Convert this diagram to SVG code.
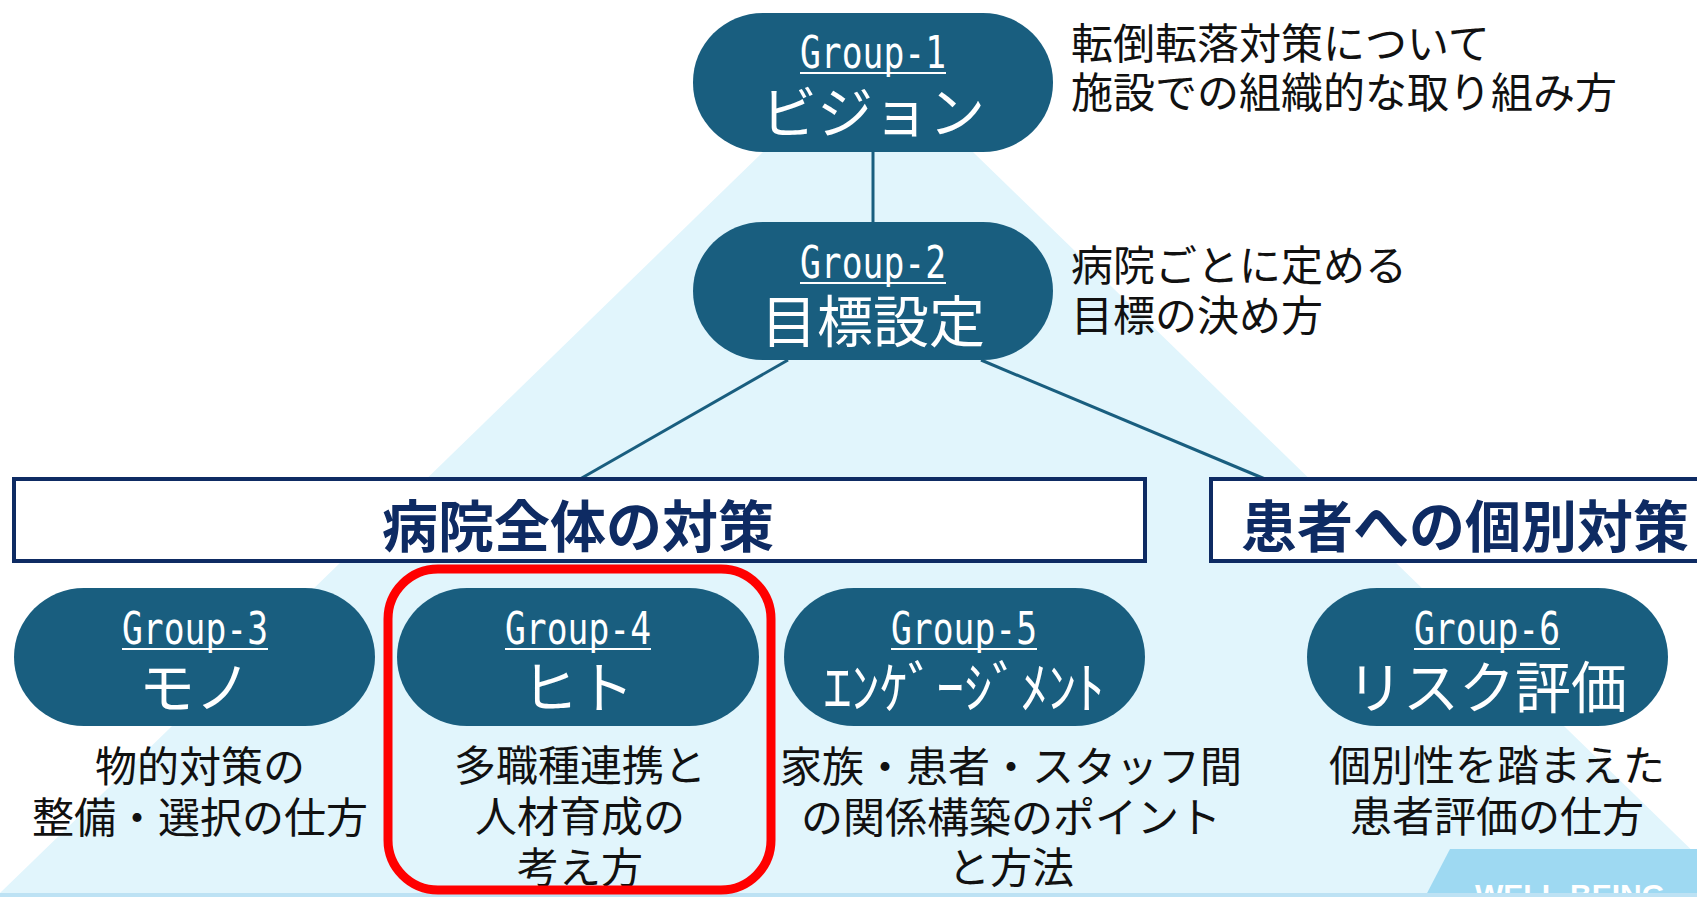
<svg xmlns="http://www.w3.org/2000/svg" width="1697" height="897" viewBox="0 0 1697 897">
<style>
.pill{fill:#195E7F}
.gl{font-family:"DejaVu Sans Mono",monospace;font-size:45px;fill:#fff;text-anchor:middle}
.ul{stroke:#fff;stroke-width:2}
.ml{font-family:"Noto Sans CJK JP",sans-serif;font-size:56px;fill:#fff;text-anchor:middle}
.ds{font-family:"Noto Sans CJK JP",sans-serif;font-size:42px;fill:#111;text-anchor:middle}
.an{font-family:"Noto Sans CJK JP",sans-serif;font-size:42px;fill:#111}
.box{fill:#fff;stroke:#0E2B63;stroke-width:4}
.bt{font-family:"Noto Sans CJK JP",sans-serif;font-size:56px;font-weight:bold;fill:#0E2B63}
.con{stroke:#195E7F;stroke-width:3;fill:none}
</style>
<rect x="0" y="0" width="1697" height="897" fill="#fff"/>
<polygon points="868,50 1740,897 -4,897" fill="#E1F5FC"/>
<polygon points="1450,849 1697,849 1697,897 1425,897" fill="#9ED9F2"/>
<text x="1475" y="905" font-family="Liberation Sans,sans-serif" font-size="30" font-weight="bold" fill="#fff">WELL-BEING</text>
<rect x="0" y="893" width="1697" height="4" fill="#BDE2F4"/>

<g id="connectors">
<line class="con" x1="873" y1="152" x2="873" y2="222"/>
<line class="con" x1="788" y1="360" x2="580" y2="479"/>
<line class="con" x1="981" y1="360" x2="1265" y2="479"/>
</g>

<g id="box-whole">
<rect class="box" x="14" y="479" width="1131" height="82"/>
<text class="bt" x="578" y="547" text-anchor="middle">病院全体の対策</text>
</g>
<g id="box-individual">
<rect class="box" x="1211" y="479" width="520" height="82"/>
<text class="bt" x="1241" y="547">患者への個別対策</text>
</g>

<g id="group1">
<rect class="pill" x="693" y="13" width="360" height="139" rx="70" ry="69"/>
<text class="gl" x="873" y="68" textLength="146" lengthAdjust="spacingAndGlyphs">Group-1</text>
<line class="ul" x1="800" y1="73" x2="946" y2="73"/>
<text class="ml" x="873" y="133">ビジョン</text>
</g>
<g id="note1">
<text class="an" x="1071" y="59">転倒転落対策について</text>
<text class="an" x="1071" y="108">施設での組織的な取り組み方</text>
</g>

<g id="group2">
<rect class="pill" x="693" y="222" width="360" height="138" rx="70" ry="69"/>
<text class="gl" x="873" y="278" textLength="146" lengthAdjust="spacingAndGlyphs">Group-2</text>
<line class="ul" x1="800" y1="283" x2="946" y2="283"/>
<text class="ml" x="873" y="342">目標設定</text>
</g>
<g id="note2">
<text class="an" x="1071" y="281">病院ごとに定める</text>
<text class="an" x="1071" y="331">目標の決め方</text>
</g>

<g id="group3">
<rect class="pill" x="14" y="588" width="361" height="138" rx="70" ry="69"/>
<text class="gl" x="195" y="644" textLength="146" lengthAdjust="spacingAndGlyphs">Group-3</text>
<line class="ul" x1="122" y1="649" x2="268" y2="649"/>
<text class="ml" x="195" y="708">モノ</text>
<text class="ds" x="200" y="782">物的対策の</text>
<text class="ds" x="200" y="833">整備・選択の仕方</text>
</g>

<g id="group4">
<rect class="pill" x="397" y="588" width="362" height="138" rx="70" ry="69"/>
<text class="gl" x="578" y="644" textLength="146" lengthAdjust="spacingAndGlyphs">Group-4</text>
<line class="ul" x1="505" y1="649" x2="651" y2="649"/>
<text class="ml" x="578" y="708">ヒト</text>
<text class="ds" x="580" y="781">多職種連携と</text>
<text class="ds" x="580" y="832">人材育成の</text>
<text class="ds" x="580" y="883">考え方</text>
</g>
<rect id="highlight" x="388" y="569" width="383" height="321" rx="50" ry="50" fill="none" stroke="#FF0000" stroke-width="9"/>

<g id="group5">
<rect class="pill" x="784" y="588" width="361" height="138" rx="70" ry="69"/>
<text class="gl" x="964" y="644" textLength="146" lengthAdjust="spacingAndGlyphs">Group-5</text>
<line class="ul" x1="891" y1="649" x2="1037" y2="649"/>
<text class="ml" x="964" y="708" textLength="281" lengthAdjust="spacingAndGlyphs">ｴﾝｹﾞｰｼﾞﾒﾝﾄ</text>
<text class="ds" x="1011" y="782">家族・患者・スタッフ間</text>
<text class="ds" x="1011" y="833">の関係構築のポイント</text>
<text class="ds" x="1011" y="883">と方法</text>
</g>

<g id="group6">
<rect class="pill" x="1307" y="588" width="361" height="138" rx="70" ry="69"/>
<text class="gl" x="1487" y="644" textLength="146" lengthAdjust="spacingAndGlyphs">Group-6</text>
<line class="ul" x1="1414" y1="649" x2="1560" y2="649"/>
<text class="ml" x="1487" y="708">リスク評価</text>
<text class="ds" x="1497" y="781">個別性を踏まえた</text>
<text class="ds" x="1497" y="832">患者評価の仕方</text>
</g>
</svg>
